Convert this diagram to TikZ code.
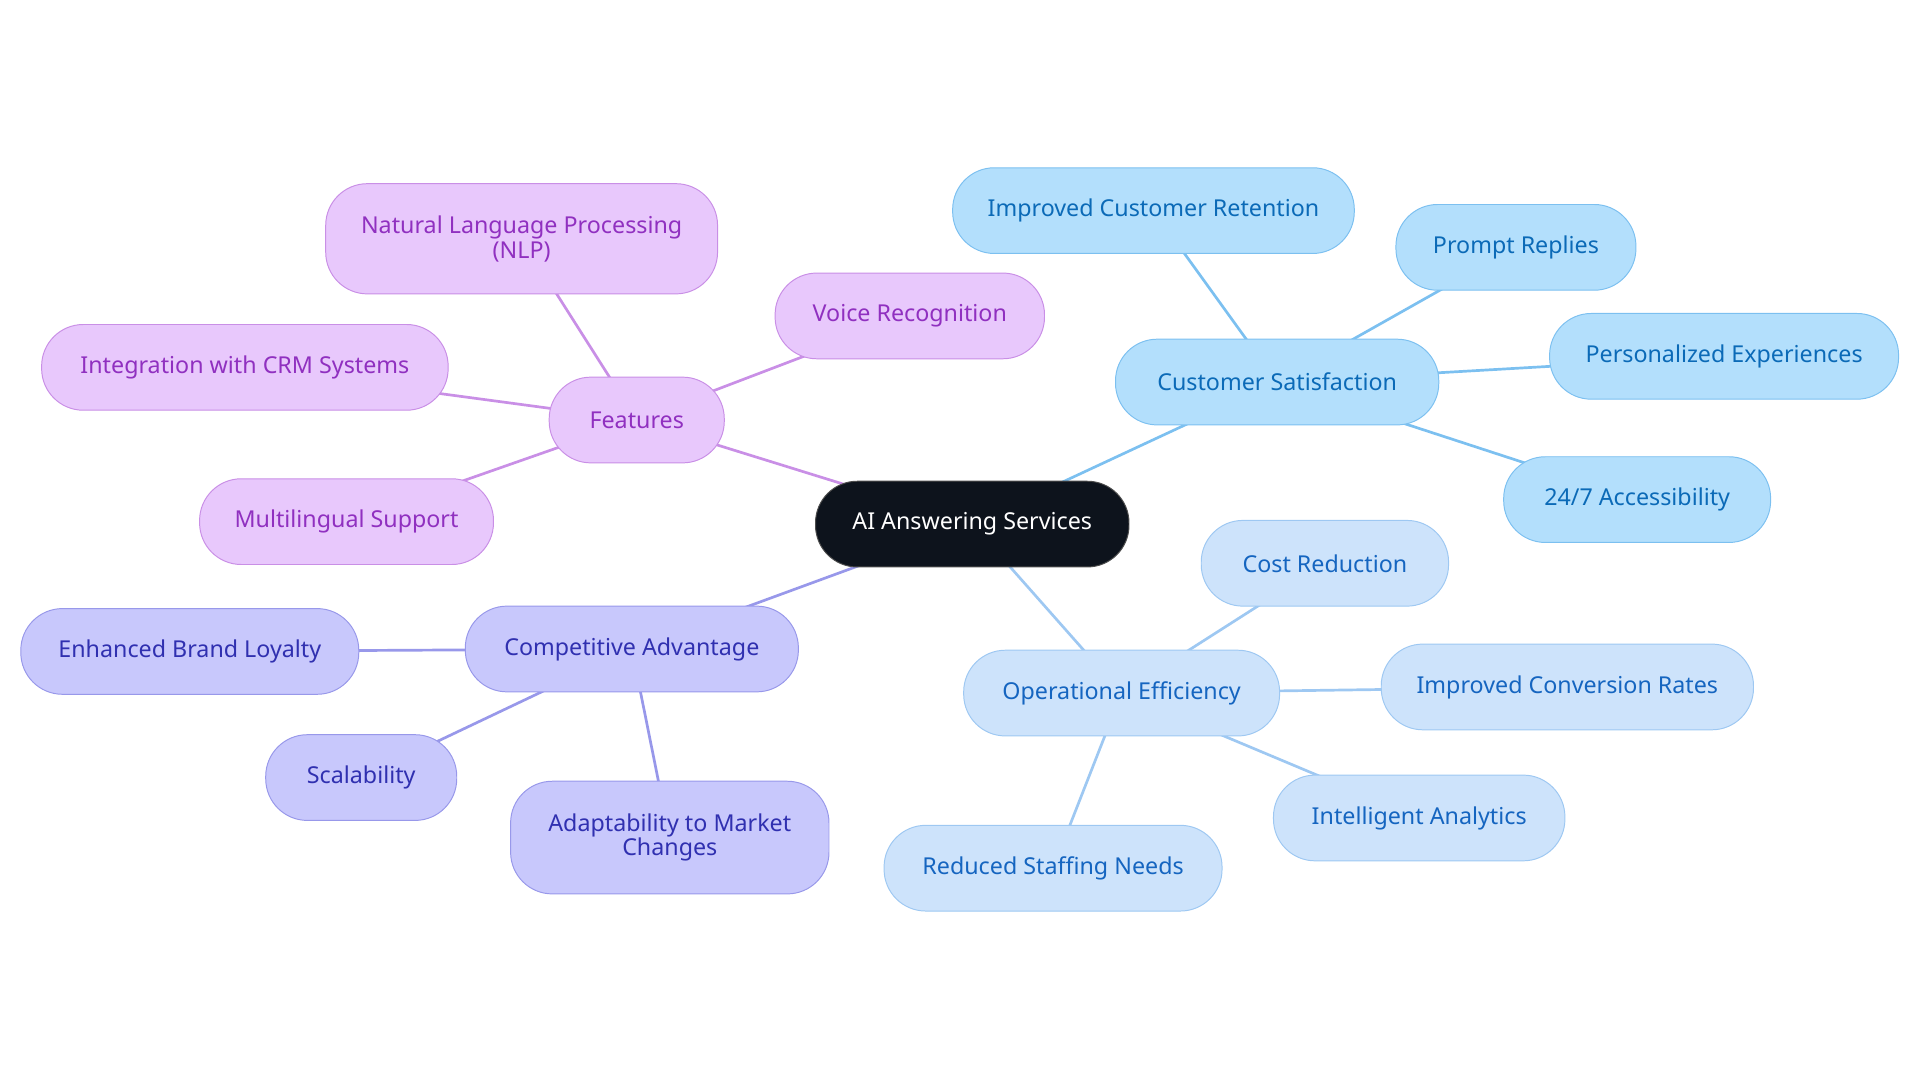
\documentclass[tikz,border=0pt]{standalone}
\usepackage{fontspec}
\setmainfont{Noto Sans}
\usetikzlibrary{backgrounds}
\definecolor{pf}{HTML}{E8C8FC}\definecolor{ps}{HTML}{C98FE6}\definecolor{pt}{HTML}{9030C0}
\definecolor{bf}{HTML}{B3DFFC}\definecolor{bs}{HTML}{7CC0F0}\definecolor{bt}{HTML}{0B6AB7}
\definecolor{lf}{HTML}{CDE3FB}\definecolor{ls}{HTML}{9EC8F2}\definecolor{lt}{HTML}{1565C0}
\definecolor{vf}{HTML}{C8C8FC}\definecolor{vs}{HTML}{9898EA}\definecolor{vt}{HTML}{3030B0}
\definecolor{cf}{HTML}{0D131C}
\tikzset{
 n/.style={rounded corners=34pt,minimum height=70pt,align=center,font=\fontsize{19}{20}\selectfont,line width=0.8pt,inner sep=0pt},
 P/.style={n,fill=pf,draw=ps,text=pt},
 B/.style={n,fill=bf,draw=bs,text=bt},
 L/.style={n,fill=lf,draw=ls,text=lt},
 V/.style={n,fill=vf,draw=vs,text=vt},
 e/.style={line width=2.2pt}
}
\begin{document}
\begin{tikzpicture}[x=1pt,y=-1pt]
\useasboundingbox (0,0) rectangle (1568,884);
\node[n,fill=cf,draw=black!70,text=white,minimum width=256pt] (c) at (794,428) {AI Answering Services};
\node[P,minimum width=143pt] (f) at (520,343) {Features};
\node[P,minimum width=320pt,minimum height=90pt] (nlp) at (426,195) {Natural Language Processing\\(NLP)};
\node[P,minimum width=220pt] (vr) at (743,258) {Voice Recognition};
\node[P,minimum width=332pt] (crm) at (200,300) {Integration with CRM Systems};
\node[P,minimum width=240pt] (ml) at (283,426) {Multilingual Support};
\node[B,minimum width=264pt] (cs) at (1043,312) {Customer Satisfaction};
\node[B,minimum width=328pt] (icr) at (942,172) {Improved Customer Retention};
\node[B,minimum width=196pt] (pr) at (1238,202) {Prompt Replies};
\node[B,minimum width=285pt] (pe) at (1408,291) {Personalized Experiences};
\node[B,minimum width=218pt] (acc) at (1337,408) {24/7 Accessibility};
\node[L,minimum width=258pt] (oe) at (916,566) {Operational Efficiency};
\node[L,minimum width=202pt] (cr) at (1082,460) {Cost Reduction};
\node[L,minimum width=304pt] (icv) at (1280,561) {Improved Conversion Rates};
\node[L,minimum width=238pt] (ia) at (1159,668) {Intelligent Analytics};
\node[L,minimum width=276pt] (rs) at (860,709) {Reduced Staffing Needs};
\node[V,minimum width=272pt] (ca) at (516,530) {Competitive Advantage};
\node[V,minimum width=276pt] (bl) at (155,532) {Enhanced Brand Loyalty};
\node[V,minimum width=156pt] (sc) at (295,635) {Scalability};
\node[V,minimum width=260pt,minimum height=92pt] (ad) at (547,684) {Adaptability to Market\\Changes};
\begin{scope}[on background layer]
\draw[e,ps] (c.center)--(f.center) (f.center)--(nlp.center) (f.center)--(vr.center) (f.center)--(crm.center) (f.center)--(ml.center);
\draw[e,bs] (c.center)--(cs.center) (cs.center)--(icr.center) (cs.center)--(pr.center) (cs.center)--(pe.center) (cs.center)--(acc.center);
\draw[e,ls] (c.center)--(oe.center) (oe.center)--(cr.center) (oe.center)--(icv.center) (oe.center)--(ia.center) (oe.center)--(rs.center);
\draw[e,vs] (c.center)--(ca.center) (ca.center)--(bl.center) (ca.center)--(sc.center) (ca.center)--(ad.center);
\end{scope}
\end{tikzpicture}
\end{document}
